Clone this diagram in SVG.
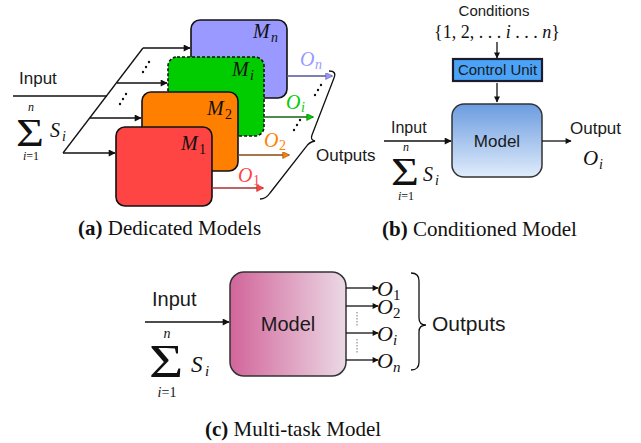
<svg xmlns="http://www.w3.org/2000/svg" width="641" height="443" viewBox="0 0 641 443">
<style>
.sans{font-family:"Liberation Sans",Arial,sans-serif;fill:#1a1a1a}
.serif{font-family:"Liberation Serif","Times New Roman",serif;fill:#111}
.it{font-style:italic}
.cap{font-family:"Liberation Serif","Times New Roman",serif;font-size:21px;fill:#111}
.ln{stroke:#111;stroke-width:1.3;fill:none}
.box{stroke:#111;stroke-width:1.6}
.dot{fill:#111}
</style>
<defs>
<marker id="ah" viewBox="0 0 10 10" refX="9" refY="5" markerWidth="9" markerHeight="7" markerUnits="userSpaceOnUse" orient="auto"><path d="M0,0 L10,5 L0,10 z" fill="#111"/></marker>
<marker id="ahs" viewBox="0 0 10 10" refX="9" refY="5" markerWidth="7" markerHeight="6" markerUnits="userSpaceOnUse" orient="auto"><path d="M0,0 L10,5 L0,10 z" fill="#111"/></marker>
<marker id="ahr" viewBox="0 0 10 10" refX="9" refY="5" markerWidth="10" markerHeight="7" markerUnits="userSpaceOnUse" orient="auto"><path d="M0,0 L10,5 L0,10 z" fill="#ff4444" stroke="#a22" stroke-width="0.8"/></marker>
<marker id="aho" viewBox="0 0 10 10" refX="9" refY="5" markerWidth="10" markerHeight="7" markerUnits="userSpaceOnUse" orient="auto"><path d="M0,0 L10,5 L0,10 z" fill="#ff8000" stroke="#8a4a10" stroke-width="0.8"/></marker>
<marker id="ahg" viewBox="0 0 10 10" refX="9" refY="5" markerWidth="10" markerHeight="7" markerUnits="userSpaceOnUse" orient="auto"><path d="M0,0 L10,5 L0,10 z" fill="#00cc00" stroke="#116611" stroke-width="0.8"/></marker>
<marker id="ahb" viewBox="0 0 10 10" refX="9" refY="5" markerWidth="10" markerHeight="7" markerUnits="userSpaceOnUse" orient="auto"><path d="M0,0 L10,5 L0,10 z" fill="#9999ff" stroke="#555599" stroke-width="0.8"/></marker>
<linearGradient id="gb" x1="0" y1="0" x2="0" y2="1"><stop offset="0" stop-color="#6b9ce0"/><stop offset="1" stop-color="#e0ecfb"/></linearGradient>
<linearGradient id="gc" x1="0" y1="0" x2="1" y2="0"><stop offset="0" stop-color="#d2659a"/><stop offset="1" stop-color="#ebd9e5"/></linearGradient>
</defs>

<!-- ===== Panel (a) ===== -->
<g id="a-input">
<text class="sans" x="19" y="84" font-size="17">Input</text>
<text class="serif" font-size="40" transform="translate(16,146) scale(1.2,1)">Σ</text>
<text class="serif it" x="31" y="111" font-size="12" text-anchor="middle">n</text>
<text class="serif" x="31" y="160" font-size="12" text-anchor="middle"><tspan font-style="italic">i</tspan>=1</text>
<text class="serif it" x="50" y="137" font-size="20">S</text>
<text class="serif it" x="62" y="141" font-size="14">i</text>
</g>
<g id="a-Mn">
<rect class="box" x="191" y="20" width="96" height="78" rx="9" fill="#9999ff"/>
<text class="serif it" x="253" y="38" font-size="20">M</text>
<text class="serif it" x="271" y="42" font-size="14">n</text>
</g>
<g id="a-Mi">
<rect class="box" x="168" y="57" width="96" height="79" rx="9" fill="#00cc00" stroke-dasharray="3,2"/>
<text class="serif it" x="232" y="76" font-size="20">M</text>
<text class="serif it" x="250" y="80" font-size="14">i</text>
</g>
<g id="a-M2">
<rect class="box" x="142" y="92" width="96" height="79" rx="9" fill="#ff8000"/>
<text class="serif it" x="207" y="115" font-size="20">M</text>
<text class="serif" x="225" y="119" font-size="14">2</text>
</g>
<g id="a-M1">
<rect class="box" x="116" y="127" width="96" height="79" rx="9" fill="#ff4444"/>
<text class="serif it" x="181" y="150" font-size="20">M</text>
<text class="serif" x="199" y="154" font-size="14">1</text>
</g>
<g id="a-outlabels">
<text class="serif it" x="238" y="182" font-size="20" style="fill:#ff4444">O</text>
<text class="serif" x="253" y="185" font-size="14" style="fill:#ff4444">1</text>
<text class="serif it" x="264" y="147" font-size="20" style="fill:#ff8000">O</text>
<text class="serif" x="279" y="150" font-size="14" style="fill:#ff8000">2</text>
<text class="serif it" x="286" y="109" font-size="20" style="fill:#00cc00">O</text>
<text class="serif it" x="301" y="112" font-size="14" style="fill:#00cc00">i</text>
<text class="serif it" x="300" y="66" font-size="20" style="fill:#9999ff">O</text>
<text class="serif it" x="315" y="69" font-size="14" style="fill:#9999ff">n</text>
<text class="sans" x="316" y="161" font-size="17">Outputs</text>
</g>
<g id="a-connectors">
<line class="ln" x1="13" y1="96" x2="107" y2="96"/>
<line class="ln" x1="63" y1="153" x2="143" y2="48"/>
<line class="ln" x1="63" y1="153" x2="115" y2="153" marker-end="url(#ah)"/>
<line class="ln" x1="90" y1="118" x2="141" y2="118" marker-end="url(#ah)"/>
<line class="ln" x1="117" y1="83" x2="167" y2="83" marker-end="url(#ah)"/>
<line class="ln" x1="143" y1="48" x2="190" y2="48" marker-end="url(#ah)"/>
<line x1="212" y1="188" x2="263" y2="188" stroke="#a83030" stroke-width="1.6" marker-end="url(#ahr)"/>
<line x1="238" y1="155" x2="289" y2="155" stroke="#8a4a10" stroke-width="1.6" marker-end="url(#aho)"/>
<line x1="264" y1="117" x2="313" y2="117" stroke="#116611" stroke-width="1.6" marker-end="url(#ahg)"/>
<line x1="287" y1="76" x2="332" y2="76" stroke="#555599" stroke-width="1.6" marker-end="url(#ahb)"/>
<path class="ln" d="M329,71 Q337,71 334,78 L312,135 Q310,140 315,141 Q309,142 306,147 L270,193 Q266,199 260,199"/>
<circle class="dot" cx="120" cy="104" r="1.2"/><circle class="dot" cx="123" cy="99" r="1.2"/><circle class="dot" cx="126" cy="94" r="1.2"/>
<circle class="dot" cx="143" cy="72" r="1.2"/><circle class="dot" cx="146" cy="67" r="1.2"/><circle class="dot" cx="149" cy="62" r="1.2"/>
<circle class="dot" cx="315" cy="95" r="1.2"/><circle class="dot" cx="318" cy="90" r="1.2"/><circle class="dot" cx="321" cy="85" r="1.2"/>
<circle class="dot" cx="294" cy="130" r="1.2"/><circle class="dot" cx="297" cy="125" r="1.2"/><circle class="dot" cx="300" cy="120" r="1.2"/>
</g>
<text class="cap" x="78" y="235"><tspan font-weight="bold">(a)</tspan> Dedicated Models</text>

<!-- ===== Panel (b) ===== -->
<g id="b-conditions">
<text class="sans" x="494" y="16" font-size="15" text-anchor="middle">Conditions</text>
<text class="serif" x="497" y="38" font-size="18" text-anchor="middle">{1, 2, . . . <tspan font-style="italic">i</tspan> . . . <tspan font-style="italic">n</tspan>}</text>
</g>
<g id="b-control">
<rect x="453" y="59" width="89" height="22" fill="#4aa3f7" stroke="#1c1c2c" stroke-width="2.2"/>
<text class="sans" x="497.5" y="75" font-size="15" text-anchor="middle">Control Unit</text>
</g>
<g id="b-model">
<rect x="452" y="104" width="90" height="73" rx="12" fill="url(#gb)" stroke="#333" stroke-width="1.5"/>
<text class="sans" x="497" y="147" font-size="17" text-anchor="middle">Model</text>
</g>
<g id="b-input">
<text class="sans" x="391" y="133" font-size="16">Input</text>
<text class="serif" font-size="40" transform="translate(391,185) scale(1.2,1)">Σ</text>
<text class="serif it" x="406" y="151" font-size="12" text-anchor="middle">n</text>
<text class="serif" x="406" y="200" font-size="12" text-anchor="middle"><tspan font-style="italic">i</tspan>=1</text>
<text class="serif it" x="423" y="181" font-size="20">S</text>
<text class="serif it" x="435" y="185" font-size="14">i</text>
</g>
<g id="b-output">
<text class="sans" x="570" y="134" font-size="17">Output</text>
<text class="serif it" x="583" y="165" font-size="21">O</text>
<text class="serif it" x="599" y="169" font-size="14">i</text>
</g>
<g id="b-connectors">
<line class="ln" x1="497" y1="42" x2="497" y2="58" marker-end="url(#ahs)"/>
<line class="ln" x1="497" y1="83" x2="497" y2="102" marker-end="url(#ahs)"/>
<line class="ln" x1="384" y1="141" x2="451" y2="141" marker-end="url(#ah)"/>
<line class="ln" x1="542" y1="141" x2="571" y2="141" marker-end="url(#ahs)"/>
</g>
<text class="cap" x="382" y="236"><tspan font-weight="bold">(b)</tspan> Conditioned Model</text>

<!-- ===== Panel (c) ===== -->
<g id="c-model">
<rect x="230" y="272" width="116" height="104" rx="14" fill="url(#gc)" stroke="#333" stroke-width="1.5"/>
<text class="sans" x="288" y="331" font-size="20" text-anchor="middle">Model</text>
</g>
<g id="c-input">
<text class="sans" x="152" y="306" font-size="20">Input</text>
<text class="serif" font-size="46" transform="translate(149,377) scale(1.28,1)">Σ</text>
<text class="serif it" x="167" y="338" font-size="14" text-anchor="middle">n</text>
<text class="serif" x="167" y="397" font-size="14" text-anchor="middle"><tspan font-style="italic">i</tspan>=1</text>
<text class="serif it" x="191" y="372" font-size="23">S</text>
<text class="serif it" x="205" y="376" font-size="15">i</text>
</g>
<g id="c-outputs">
<text class="serif it" x="377" y="296" font-size="22">O</text><text class="serif" x="393" y="300" font-size="15">1</text>
<text class="serif it" x="377" y="314" font-size="22">O</text><text class="serif" x="393" y="318" font-size="15">2</text>
<text class="serif it" x="377" y="341" font-size="22">O</text><text class="serif it" x="393" y="345" font-size="15">i</text>
<text class="serif it" x="377" y="368" font-size="22">O</text><text class="serif it" x="393" y="372" font-size="15">n</text>
<text class="sans" x="432" y="331" font-size="21">Outputs</text>
</g>
<g id="c-connectors">
<line class="ln" x1="145" y1="322" x2="229" y2="322" marker-end="url(#ah)"/>
<line class="ln" x1="346" y1="288" x2="378" y2="288" marker-end="url(#ahs)"/>
<line class="ln" x1="346" y1="306" x2="378" y2="306" marker-end="url(#ahs)"/>
<line class="ln" x1="346" y1="333" x2="378" y2="333" marker-end="url(#ahs)"/>
<line class="ln" x1="346" y1="360" x2="378" y2="360" marker-end="url(#ahs)"/>
<line x1="357" y1="312" x2="357" y2="327" stroke="#777" stroke-width="1" stroke-dasharray="1.5,1.5"/>
<line x1="357" y1="339" x2="357" y2="354" stroke="#777" stroke-width="1" stroke-dasharray="1.5,1.5"/>
<path class="ln" d="M411,273 Q419,273 419,281 L419,318 Q419,325 426,325 Q419,325 419,332 L419,362 Q419,370 411,370"/>
</g>
<text class="cap" x="205" y="436"><tspan font-weight="bold">(c)</tspan> Multi-task Model</text>
</svg>
